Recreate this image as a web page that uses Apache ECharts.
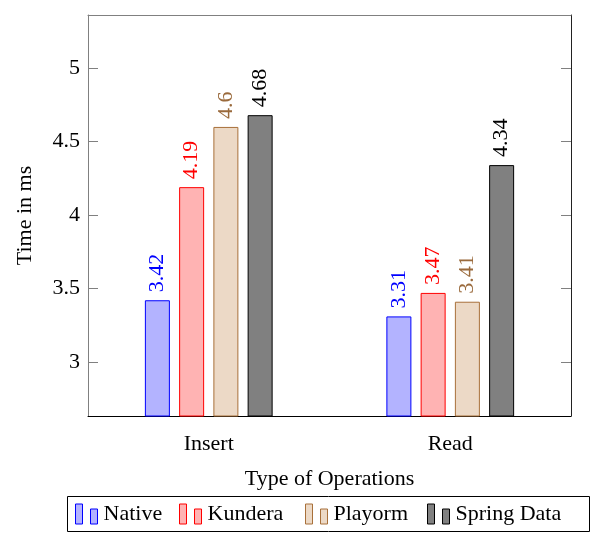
<!DOCTYPE html>
<html>
<head>
<meta charset="UTF-8" />
<title>Time in ms by operation</title>
<script src="https://cdn.jsdelivr.net/npm/echarts@6/dist/echarts.min.js"></script>
<style>
  html, body { margin:0; padding:0; width:100%; height:100%; background:#fff; }
  #chart { width:598px; height:536px; }
</style>
</head>
<body>
<div id="chart"></div>
<script>
/* ==== data ==== */
const categories = ['Insert', 'Read'];
const seriesNames = ['Native', 'Kundera', 'Playorm', 'Spring Data'];
const nativeTimes = [3.42, 3.31];
const kunderaTimes = [4.19, 3.47];
const playormTimes = [4.6, 3.41];
const springTimes = [4.68, 4.34];
const yTicks = [3, 3.5, 4, 4.5, 5];

/* ==== styles ==== */
const FONT = 'Liberation Serif';
const FS = 22;
const fills = ['#b3b3ff', '#ffb3b3', '#ecd9c6', '#808080'];
const borders = ['#0000ff', '#ff0000', '#a8703a', '#000000'];
const labelColors = ['#0000ff', '#ff0000', '#9a6a3c', '#000000'];
const legendLefts = [75, 179, 305, 427];
const allData = [nativeTimes, kunderaTimes, playormTimes, springTimes];

const chart = echarts.init(document.getElementById('chart'));

const series = seriesNames.map((name, i) => ({
  name,
  type: 'bar',
  data: allData[i],
  barWidth: 25,
  barGap: '37%',
  itemStyle: { color: fills[i], borderColor: borders[i], borderWidth: 1 },
  label: {
    show: true,
    position: 'top',
    rotate: 90,
    align: 'left',
    verticalAlign: 'middle',
    distance: 8,
    color: labelColors[i],
    fontFamily: FONT,
    fontSize: FS
  },
  emphasis: { disabled: true }
}));

chart.setOption({
  animation: false,
  textStyle: { fontFamily: FONT },
  grid: { left: 88, right: 27, top: 15, bottom: 120 },
  // one legend per entry so each sits where the reference puts it
  legend: seriesNames.map((n, i) => ({
    data: [n],
    left: legendLefts[i],
    top: 503,
    padding: 0,
    itemWidth: 22,
    itemHeight: 20,
    icon: 'path://M0,0H7V20H0Z M15,5H22V20H15Z',
    itemStyle: { borderWidth: 1 },
    textStyle: { fontFamily: FONT, fontSize: FS, color: '#000', padding: [0, 0, 0, 1] },
    selectedMode: false
  })),
  graphic: [{
    type: 'rect',
    shape: { x: 67.5, y: 496.5, width: 522, height: 35 },
    style: { fill: 'none', stroke: '#000', lineWidth: 1 },
    silent: true
  }],
  xAxis: [{
    type: 'category',
    data: categories,
    position: 'bottom',
    axisLine: { lineStyle: { color: '#000', width: 1 } },
    axisTick: { alignWithLabel: true, length: 10, lineStyle: { color: '#808080' } },
    axisLabel: { color: '#000', fontFamily: FONT, fontSize: FS, margin: 17 },
    name: 'Type of Operations',
    nameLocation: 'middle',
    nameGap: 52,
    nameTextStyle: { color: '#000', fontFamily: FONT, fontSize: FS }
  }, {
    type: 'category',
    data: categories,
    position: 'top',
    axisLine: { lineStyle: { color: '#808080', width: 1 } },
    axisTick: { alignWithLabel: true, length: 10, lineStyle: { color: '#808080' } },
    axisLabel: { show: false }
  }],
  yAxis: [{
    type: 'value',
    min: 2.632,
    max: 5.362,
    position: 'left',
    axisLine: { show: true, lineStyle: { color: '#808080', width: 1 } },
    axisTick: { show: true, inside: true, length: 10, customValues: yTicks, lineStyle: { color: '#808080' } },
    axisLabel: { color: '#000', fontFamily: FONT, fontSize: FS, margin: 8, customValues: yTicks },
    splitLine: { show: false },
    name: 'Time in ms',
    nameLocation: 'middle',
    nameGap: 52,
    nameTextStyle: { color: '#000', fontFamily: FONT, fontSize: FS }
  }, {
    type: 'value',
    min: 2.632,
    max: 5.362,
    position: 'right',
    axisLine: { show: true, lineStyle: { color: '#222', width: 1 } },
    axisTick: { show: true, inside: true, length: 10, customValues: yTicks, lineStyle: { color: '#808080' } },
    axisLabel: { show: false },
    splitLine: { show: false }
  }],
  series
});
</script>
</body>
</html>
